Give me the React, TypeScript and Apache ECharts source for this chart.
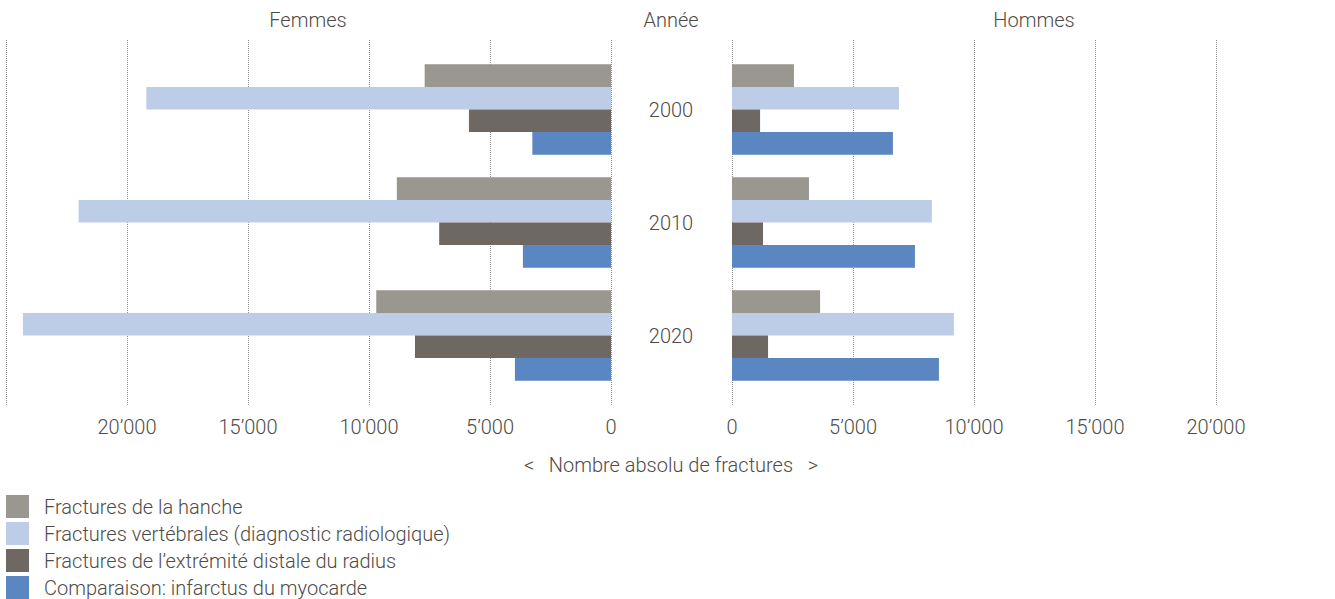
import React, { useEffect, useRef } from 'react';
import * as echarts from 'echarts';

const years = ['2000', '2010', '2020'];
const seriesNames = [
  'Fractures de la hanche',
  'Fractures vertébrales (diagnostic radiologique)',
  'Fractures de l’extrémité distale du radius',
  'Comparaison: infarctus du myocarde',
];
const colors = ['#9a9690', '#bdcde8', '#6f6761', '#5a86c1'];

const femmesHanche = [7700, 8850, 9700];
const femmesVertebrales = [19200, 22000, 24300];
const femmesRadius = [5870, 7100, 8100];
const femmesInfarctus = [3250, 3640, 3970];

const hommesHanche = [2560, 3180, 3640];
const hommesVertebrales = [6900, 8260, 9170];
const hommesRadius = [1160, 1280, 1490];
const hommesInfarctus = [6650, 7560, 8550];

const leftMax = 25000;
const rightMax = 20000;
const tickStep = 5000;

const FONT = 'Roboto, "Liberation Sans", sans-serif';
const TEXT = '#4f4b47';
const FS = 20;

function fmt(v: number): string {
  if (v === 25000) return '';
  if (v >= 1000) return `${Math.floor(v / 1000)}’${String(v % 1000).padStart(3, '0')}`;
  return String(v);
}

export default function App() {
  const ref = useRef<HTMLDivElement>(null);
  useEffect(() => {
    if (!ref.current) return;
    const chart = echarts.init(ref.current, undefined, { renderer: 'svg' });
    const femmes = [femmesHanche, femmesVertebrales, femmesRadius, femmesInfarctus];
    const hommes = [hommesHanche, hommesVertebrales, hommesRadius, hommesInfarctus];
    const barTop = 53;
    const barH = 339;
    const lineTop = 40;
    const lineH = 365;
    const leftGrid = { left: 6, right: 1335 - 611 };
    const rightGrid = { left: 732, right: 1335 - 1216 };
    const splitLine = { show: true, lineStyle: { type: 'dotted' as const, color: '#8f8f8f', width: 1 } };
    const labelStyle = { color: TEXT, fontSize: FS, fontWeight: 300, fontFamily: FONT };

    const series: any[] = [];
    femmes.forEach((d, i) =>
      series.push({
        name: seriesNames[i],
        type: 'bar',
        xAxisIndex: 0,
        yAxisIndex: 0,
        data: d,
        itemStyle: { color: colors[i] },
        barGap: '0%',
        barCategoryGap: '20%',
      })
    );
    hommes.forEach((d, i) =>
      series.push({
        name: seriesNames[i],
        type: 'bar',
        xAxisIndex: 1,
        yAxisIndex: 1,
        data: d,
        itemStyle: { color: colors[i] },
        barGap: '0%',
        barCategoryGap: '20%',
      })
    );

    const txt = (text: string, x: number, y: number) => ({
      type: 'text',
      x,
      y,
      style: { text, fill: TEXT, font: `300 ${FS}px ${FONT}`, textAlign: 'center', textVerticalAlign: 'middle' },
    });

    chart.setOption({
      animation: false,
      textStyle: { fontFamily: FONT },
      grid: [
        { ...leftGrid, top: barTop, height: barH },
        { ...rightGrid, top: barTop, height: barH },
        { ...leftGrid, top: lineTop, height: lineH },
        { ...rightGrid, top: lineTop, height: lineH },
      ],
      xAxis: [
        { type: 'value', gridIndex: 0, min: 0, max: leftMax, interval: tickStep, inverse: true, show: false },
        { type: 'value', gridIndex: 1, min: 0, max: rightMax, interval: tickStep, show: false },
        {
          type: 'value', gridIndex: 2, min: 0, max: leftMax, interval: tickStep, inverse: true,
          axisLine: { show: false }, axisTick: { show: false }, splitLine,
          axisLabel: { formatter: fmt, margin: 12, ...labelStyle },
        },
        {
          type: 'value', gridIndex: 3, min: 0, max: rightMax, interval: tickStep,
          axisLine: { show: false }, axisTick: { show: false }, splitLine,
          axisLabel: { formatter: fmt, margin: 12, ...labelStyle },
        },
      ],
      yAxis: [
        { type: 'category', gridIndex: 0, data: years, inverse: true, show: false },
        {
          type: 'category', gridIndex: 1, data: years, inverse: true,
          axisLine: { show: false }, axisTick: { show: false },
          axisLabel: { align: 'center', margin: 61, ...labelStyle },
        },
        { type: 'value', gridIndex: 2, show: false },
        { type: 'value', gridIndex: 3, show: false },
      ],
      legend: {
        orient: 'vertical',
        left: 6,
        top: 495,
        padding: 0,
        itemWidth: 23,
        itemHeight: 23,
        itemGap: 4,
        icon: 'rect',
        data: seriesNames,
        textStyle: { ...labelStyle, padding: [0, 0, 0, 10] },
      },
      graphic: [
        txt('Femmes', 308, 20),
        txt('Année', 671, 20),
        txt('Hommes', 1034, 20),
        txt('<   Nombre absolu de fractures   >', 671, 465),
      ],
      series,
    });
    return () => chart.dispose();
  }, []);
  return <div ref={ref} style={{ position: 'absolute', left: 0, top: 0, width: 1335, height: 599 }} />;
}
